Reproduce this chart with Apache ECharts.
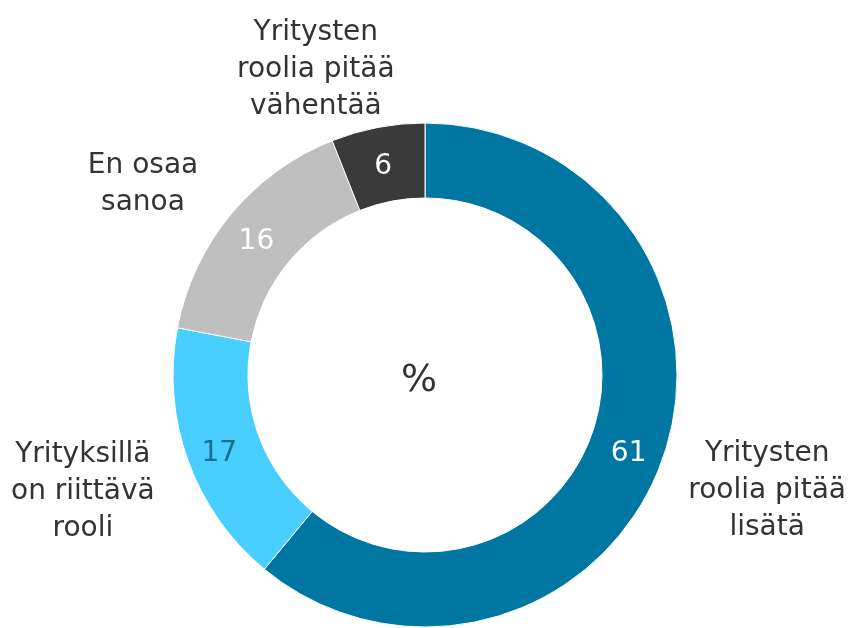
<!DOCTYPE html>
<html>
<head>
<meta charset="utf-8">
<script src="https://cdn.jsdelivr.net/npm/echarts@6/dist/echarts.min.js"></script>
<style>
    html, body { margin: 0; padding: 0; background: #fff; }
    #chart { width: 851px; height: 628px; }
</style>
</head>
<body>
<div id="chart"></div>
<script>
    var categories = ['Yritysten\nroolia pitää\nlisätä', 'Yrityksillä\non riittävä\nrooli', 'En osaa\nsanoa', 'Yritysten\nroolia pitää\nvähentää'];
    var values = [61, 17, 16, 6];
    var sliceColors = ['#0077A3', '#48CFFF', '#BFBFBF', '#3A3A3A'];
    var valueColors = ['#ffffff', '#16708F', '#ffffff', '#ffffff'];
    // small nudges so the outer names sit like in the original
    var nameOffsets = [[10, -4], [-10, -3], [-10, 34], [-43, 41]];

    var font = '"DejaVu Sans", Verdana, sans-serif';
    var myChart = echarts.init(document.getElementById('chart'));

    var ringData = values.map(function (v, i) {
        return {
            value: v,
            name: categories[i],
            itemStyle: { color: sliceColors[i] },
            label: { color: valueColors[i] }
        };
    });
    var nameData = values.map(function (v, i) {
        return {
            value: v,
            name: categories[i],
            label: { offset: nameOffsets[i] }
        };
    });

    var option = {
        animation: false,
        graphic: [{
            type: 'text',
            left: 401,
            top: 362,
            style: { text: '%', font: '38px ' + font, fill: '#333' }
        }],
        series: [
            {
                type: 'pie',
                center: [425, 375],
                radius: [177, 252],
                startAngle: 90,
                clockwise: true,
                data: ringData,
                itemStyle: { borderColor: '#fff', borderWidth: 1 },
                label: {
                    show: true,
                    position: 'inside',
                    formatter: '{c}',
                    fontFamily: font,
                    fontSize: 28,
                    offset: [-1, 5]
                },
                labelLine: { show: false },
                emphasis: { disabled: true }
            },
            {
                type: 'pie',
                center: [425, 375],
                radius: [330, 370],
                startAngle: 90,
                clockwise: true,
                silent: true,
                data: nameData,
                itemStyle: { color: 'transparent' },
                label: {
                    show: true,
                    position: 'inside',
                    formatter: '{b}',
                    fontFamily: font,
                    fontSize: 28,
                    lineHeight: 37,
                    color: '#333',
                    align: 'center'
                },
                labelLine: { show: false },
                emphasis: { disabled: true }
            }
        ]
    };
    myChart.setOption(option);
</script>
</body>
</html>
